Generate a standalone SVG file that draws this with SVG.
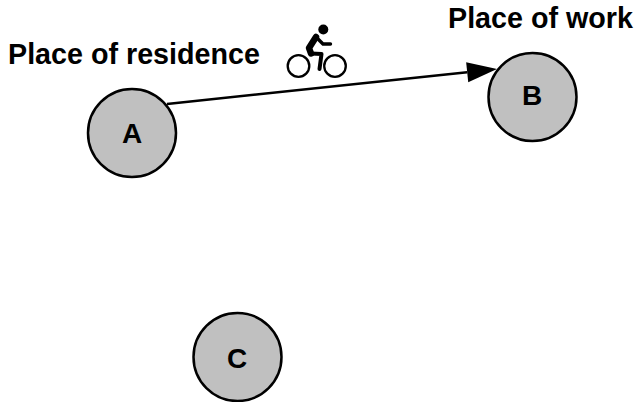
<svg xmlns="http://www.w3.org/2000/svg" width="639" height="402" viewBox="0 0 639 402">
  <style>
    .node { fill: #c0c0c0; stroke: #000000; stroke-width: 2.5; }
    .nlabel { font-family: "Liberation Sans", Arial, sans-serif; font-weight: bold; font-size: 28px; fill: #000000; text-anchor: middle; }
    .title { font-family: "Liberation Sans", Arial, sans-serif; font-weight: bold; font-size: 28.7px; fill: #000000; }
    .edge { stroke: #000000; stroke-width: 2.5; fill: none; }
    .wheel { fill: none; stroke: #000000; stroke-width: 2.3; }
    .limb { fill: none; stroke: #000000; stroke-linecap: round; stroke-linejoin: round; }
  </style>
  <defs>
    <marker id="arrow" markerUnits="userSpaceOnUse" markerWidth="31" markerHeight="22" refX="0" refY="10" orient="auto" overflow="visible">
      <path d="M0,0 L30,10 L0,20 z" fill="#000000"/>
    </marker>
  </defs>
  <rect x="0" y="0" width="639" height="402" fill="#ffffff"/>

  <g id="connectors">
    <line class="edge" x1="167" y1="104" x2="467.2" y2="72.2" marker-end="url(#arrow)"/>
  </g>

  <g id="node-A">
    <circle class="node" cx="132" cy="133" r="44"/>
    <text class="nlabel" x="132" y="142.7">A</text>
  </g>
  <g id="node-B">
    <circle class="node" cx="532.5" cy="97" r="44"/>
    <text class="nlabel" x="532" y="105">B</text>
  </g>
  <g id="node-C">
    <circle class="node" cx="237.5" cy="357" r="44"/>
    <text class="nlabel" x="237" y="368">C</text>
  </g>

  <g id="label-residence">
    <text class="title" x="8" y="63.5">Place of residence</text>
  </g>
  <g id="label-work">
    <text class="title" x="448" y="28">Place of work</text>
  </g>

  <g id="bicycle-icon">
    <circle class="wheel" cx="298.5" cy="66" r="10.8"/>
    <circle class="wheel" cx="335" cy="66" r="10.8"/>
    <circle cx="323.3" cy="29.5" r="5" fill="#000"/>
    <path class="limb" d="M316,37 L309,48 L311,53.5" stroke-width="6.5"/>
    <path class="limb" d="M318,39 L323,44 L330.5,44" stroke-width="3.4"/>
    <path class="limb" d="M311,53.5 L321.5,54 L319.5,69" stroke-width="4"/>
  </g>
</svg>
